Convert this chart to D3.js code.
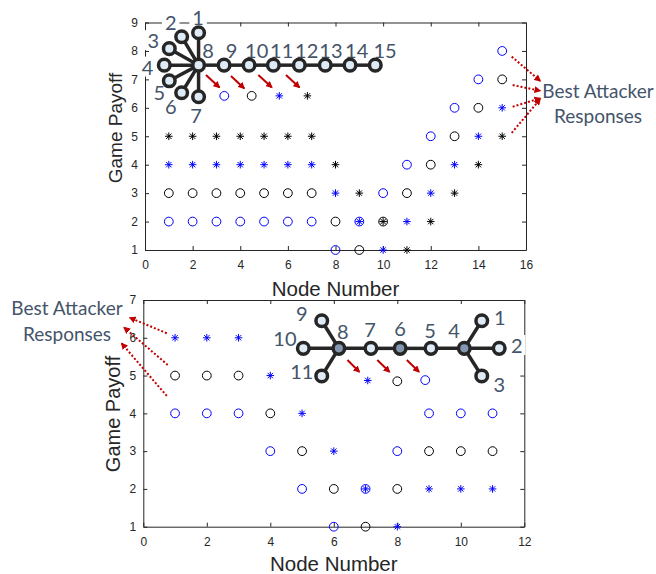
<!DOCTYPE html>
<html>
<head>
<meta charset="utf-8">
<script src="https://cdn.jsdelivr.net/npm/d3@7"></script>
<style>
  body { margin: 0; background: #fff; }
  svg { display: block; }
</style>
</head>
<body>
<svg id="chart"></svg>
<script>
// ---- data: top chart (15 node star+line graph) ----
const nodesTop = [1, 2, 3, 4, 5, 6, 7, 8, 9, 10, 11, 12, 13, 14, 15];
const blueCircleTop = [2, 2, 2, 2, 2, 2, 2, 1, 2, 3, 4, 5, 6, 7, 8];
const blackCircleTop = [3, 3, 3, 3, 3, 3, 3, 2, 1, 2, 3, 4, 5, 6, 7];
const blueStarTop = [4, 4, 4, 4, 4, 4, 4, 3, 2, 1, 2, 3, 4, 5, 6];
const blackStarTop = [5, 5, 5, 5, 5, 5, 5, 4, 3, 2, 1, 2, 3, 4, 5];

// ---- data: bottom chart (11 node graph) ----
const nodesBot = [1, 2, 3, 4, 5, 6, 7, 8, 9, 10, 11];
const blueCircleBot = [4, 4, 4, 3, 2, 1, 2, 3, 4, 4, 4];
const blackCircleBot = [5, 5, 5, 4, 3, 2, 1, 2, 3, 3, 3];
const blueStarBot = [6, 6, 6, 5, 4, 3, 2, 1, 2, 2, 2];

const xTicksTop = [0, 2, 4, 6, 8, 10, 12, 14, 16];
const yTicksTop = [1, 2, 3, 4, 5, 6, 7, 8, 9];
const xTicksBot = [0, 2, 4, 6, 8, 10, 12];
const yTicksBot = [1, 2, 3, 4, 5, 6, 7];

// inset graphs, in axis units: [id, x, y, labelX, labelY, dark]
const graphTop = [
  [1, 2.25, 8.64, 2.23, 9.19],
  [2, 1.54, 8.50, 1.08, 9.03],
  [3, 1.02, 8.08, 0.35, 8.38],
  [4, 0.81, 7.50, 0.11, 7.45],
  [5, 1.02, 6.95, 0.60, 6.57],
  [6, 1.54, 6.53, 1.08, 6.06],
  [7, 2.25, 6.39, 2.14, 5.75],
  [8, 2.25, 7.50, 2.65, 8.03],
  [9, 3.32, 7.50, 3.64, 8.03],
  [10, 4.37, 7.50, 4.69, 8.03],
  [11, 5.39, 7.50, 5.74, 8.03],
  [12, 6.48, 7.50, 6.79, 8.03],
  [13, 7.57, 7.50, 7.81, 8.03],
  [14, 8.61, 7.50, 8.89, 8.03],
  [15, 9.67, 7.50, 10.08, 8.03]
];
const edgesTop = [[8, 1], [8, 2], [8, 3], [8, 4], [8, 5], [8, 6], [8, 7], [8, 9],
  [9, 10], [10, 11], [11, 12], [12, 13], [13, 14], [14, 15]];

const graphBot = [
  [1, 10.66, 6.45, 11.23, 6.56],
  [2, 11.21, 5.72, 11.76, 5.81],
  [3, 10.66, 4.99, 11.21, 4.77],
  [4, 10.11, 5.72, 9.79, 6.21, true],
  [5, 9.06, 5.72, 9.03, 6.21],
  [6, 8.09, 5.72, 8.09, 6.26, true],
  [7, 7.17, 5.72, 7.14, 6.23],
  [8, 6.16, 5.72, 6.28, 6.19, true],
  [9, 5.62, 6.45, 4.99, 6.65],
  [10, 5.04, 5.72, 4.46, 5.99],
  [11, 5.62, 4.99, 4.99, 5.13]
];
const edgesBot = [[8, 9], [8, 10], [8, 11], [8, 7], [7, 6], [6, 5], [5, 4], [4, 1], [4, 2], [4, 3]];

// sample markers under the insets: [x, y, kind]
const sampleTop = [[3.33, 6.42, "blueO"], [4.48, 6.42, "blackO"], [5.64, 6.42, "blueS"], [6.82, 6.42, "blackS"]];
const sampleBot = [[7.07, 4.87, "blueS"], [8.0, 4.85, "blackO"], [8.88, 4.88, "blueO"]];

// red arrows [x1, y1, x2, y2]
const arrowsTop = [[2.56, 7.15, 3.12, 6.72], [3.61, 7.12, 4.16, 6.69], [4.76, 7.15, 5.32, 6.72], [5.92, 7.15, 6.48, 6.72]];
const arrowsBot = [[6.43, 5.41, 6.80, 5.10], [7.37, 5.41, 7.75, 5.10], [8.30, 5.41, 8.68, 5.10]];
const dottedTop = [[15.40, 7.80, 16.59, 6.95], [15.44, 6.80, 16.59, 6.60], [15.44, 6.04, 16.59, 6.33], [15.40, 5.12, 16.59, 6.30]];
const dottedBot = [[0.74, 6.12, -0.42, 6.53], [0.77, 5.28, -0.60, 6.27], [0.74, 4.46, -0.68, 5.85]];

const width = 656;
const height = 574;
const axisColor = "#262626";
const slate = "#44546A";
const darkRed = "#C00000";

const svg = d3.select("#chart").attr("width", width).attr("height", height);

const defs = svg.append("defs");
defs.append("marker")
  .attr("id", "head")
  .attr("viewBox", "0 0 10 10")
  .attr("refX", 8).attr("refY", 5)
  .attr("markerWidth", 7).attr("markerHeight", 7)
  .attr("markerUnits", "userSpaceOnUse")
  .attr("orient", "auto")
  .append("path").attr("d", "M0,0 L10,5 L0,10 z").attr("fill", darkRed);

const drawPanel = (cfg) => {
  const { x, y, xTicks, yTicks, series, graph, edges, samples, arrows, dotted, note, xLabel, yLabel } = cfg;
  const g = svg.append("g");
  const [l, r] = x.range();
  const [b, t] = y.range();
  const fmt = d3.format("d");

  // axes, MATLAB style box with inward ticks
  const styleAxis = (sel) => {
    sel.attr("color", axisColor).attr("font-family", "Liberation Sans, Arial, sans-serif").attr("font-size", 12);
    sel.selectAll("text").attr("fill", axisColor);
  };
  g.append("g").attr("transform", `translate(0,${b})`)
    .call(d3.axisBottom(x).tickValues(xTicks).tickFormat(fmt).tickSizeInner(-4).tickSizeOuter(0).tickPadding(10.5))
    .call(styleAxis);
  g.append("g").attr("transform", `translate(${l},0)`)
    .call(d3.axisLeft(y).tickValues(yTicks).tickFormat(fmt).tickSizeInner(-4).tickSizeOuter(0).tickPadding(7))
    .call(styleAxis);
  g.append("g").attr("transform", `translate(0,${t})`)
    .call(d3.axisTop(x).tickValues(xTicks).tickSizeInner(-4).tickSizeOuter(0).tickFormat(""))
    .call(styleAxis);
  g.append("g").attr("transform", `translate(${r},0)`)
    .call(d3.axisRight(y).tickValues(yTicks).tickSizeInner(-4).tickSizeOuter(0).tickFormat(""))
    .call(styleAxis);

  g.append("text")
    .attr("x", (l + r) / 2).attr("y", xLabel.y)
    .attr("text-anchor", "middle").attr("dominant-baseline", "central")
    .attr("font-family", "Liberation Sans, Arial, sans-serif").attr("font-size", 20.5)
    .attr("fill", axisColor).text("Node Number");
  g.append("text")
    .attr("transform", `translate(${yLabel.x},${yLabel.y}) rotate(-90)`)
    .attr("text-anchor", "middle").attr("dominant-baseline", "central")
    .attr("font-family", "Liberation Sans, Arial, sans-serif").attr("font-size", yLabel.size)
    .attr("fill", axisColor).text("Game Payoff");

  // markers
  const marks = g.append("g");
  const drawMark = (px, py, kind) => {
    const color = kind.startsWith("blue") ? "#0000FF" : "#000000";
    if (kind.endsWith("O")) {
      marks.append("circle").attr("cx", px).attr("cy", py).attr("r", 4.4)
        .attr("fill", "none").attr("stroke", color).attr("stroke-width", 1);
    } else {
      const s = 3.8, d = s * 0.7071;
      marks.append("path")
        .attr("d", `M${px - s},${py}h${2 * s}M${px},${py - s}v${2 * s}` +
          `M${px - d},${py - d}l${2 * d},${2 * d}M${px - d},${py + d}l${2 * d},${-2 * d}`)
        .attr("stroke", color).attr("stroke-width", 1).attr("fill", "none");
    }
  };
  series.forEach(([xs, ys, kind]) => {
    xs.forEach((n, i) => drawMark(x(n), y(ys[i]), kind));
  });
  samples.forEach(([sx, sy, kind]) => drawMark(x(sx), y(sy), kind));

  // inset graph
  const byId = new Map(graph.map((n) => [n[0], n]));
  const ig = g.append("g");
  const labels = ig.selectAll("text.node-label").data(graph).join("text")
    .attr("class", "node-label")
    .attr("x", (d) => x(d[3])).attr("y", (d) => y(d[4]))
    .attr("text-anchor", "middle").attr("dominant-baseline", "central")
    .attr("font-family", "Lato, sans-serif").attr("font-size", 20)
    .attr("fill", slate).text((d) => d[0]);
  labels.each(function () {
    const bb = this.getBBox();
    ig.insert("rect", "text")
      .attr("x", bb.x - 3).attr("y", bb.y + 2).attr("width", bb.width + 6).attr("height", bb.height - 4)
      .attr("fill", "#fff");
  });
  ig.selectAll("line.edge").data(edges).join("line").attr("class", "edge")
    .attr("x1", (e) => x(byId.get(e[0])[1])).attr("y1", (e) => y(byId.get(e[0])[2]))
    .attr("x2", (e) => x(byId.get(e[1])[1])).attr("y2", (e) => y(byId.get(e[1])[2]))
    .attr("stroke", axisColor).attr("stroke-width", 3.5);
  ig.selectAll("circle.node").data(graph).join("circle").attr("class", "node")
    .attr("cx", (d) => x(d[1])).attr("cy", (d) => y(d[2])).attr("r", 5.8)
    .attr("fill", (d) => (d[5] ? "#8497B0" : "#DEEBF7"))
    .attr("stroke", axisColor).attr("stroke-width", 3.5);

  // red arrows
  g.selectAll("line.arrow").data(arrows).join("line").attr("class", "arrow")
    .attr("x1", (a) => x(a[0])).attr("y1", (a) => y(a[1]))
    .attr("x2", (a) => x(a[2])).attr("y2", (a) => y(a[3]))
    .attr("stroke", darkRed).attr("stroke-width", 2).attr("marker-end", "url(#head)");
  g.selectAll("line.dotted").data(dotted).join("line").attr("class", "dotted")
    .attr("x1", (a) => x(a[0])).attr("y1", (a) => y(a[1]))
    .attr("x2", (a) => x(a[2])).attr("y2", (a) => y(a[3]))
    .attr("stroke", darkRed).attr("stroke-width", 2).attr("stroke-dasharray", "2,2")
    .attr("marker-end", "url(#head)");

  // annotation
  const noteText = g.append("text")
    .attr("font-family", "Lato, sans-serif").attr("font-size", 19)
    .attr("fill", slate).attr("text-anchor", "middle").attr("dominant-baseline", "central");
  noteText.append("tspan").attr("x", note.x).attr("y", note.y1).text("Best Attacker");
  noteText.append("tspan").attr("x", note.x).attr("y", note.y2).text("Responses");
};

const xTop = d3.scaleLinear().domain([0, 16]).range([145, 526]);
const yTop = d3.scaleLinear().domain([1, 9]).range([250, 22.5]);
const xBot = d3.scaleLinear().domain([0, 12]).range([143.3, 524.3]);
const yBot = d3.scaleLinear().domain([1, 7]).range([526.7, 300]);

drawPanel({
  x: xTop, y: yTop, xTicks: xTicksTop, yTicks: yTicksTop,
  series: [
    [nodesTop, blueCircleTop, "blueO"],
    [nodesTop, blackCircleTop, "blackO"],
    [nodesTop, blueStarTop, "blueS"],
    [nodesTop, blackStarTop, "blackS"]
  ],
  graph: graphTop, edges: edgesTop, samples: sampleTop,
  arrows: arrowsTop, dotted: dottedTop,
  note: { x: 598, y1: 90, y2: 115 },
  xLabel: { y: 288 }, yLabel: { x: 115, y: 128, size: 19 }
});

drawPanel({
  x: xBot, y: yBot, xTicks: xTicksBot, yTicks: yTicksBot,
  series: [
    [nodesBot, blueCircleBot, "blueO"],
    [nodesBot, blackCircleBot, "blackO"],
    [nodesBot, blueStarBot, "blueS"]
  ],
  graph: graphBot, edges: edgesBot, samples: sampleBot,
  arrows: arrowsBot, dotted: dottedBot,
  note: { x: 67, y1: 307, y2: 333 },
  xLabel: { y: 563 }, yLabel: { x: 113, y: 414, size: 20 }
});
</script>
</body>
</html>
